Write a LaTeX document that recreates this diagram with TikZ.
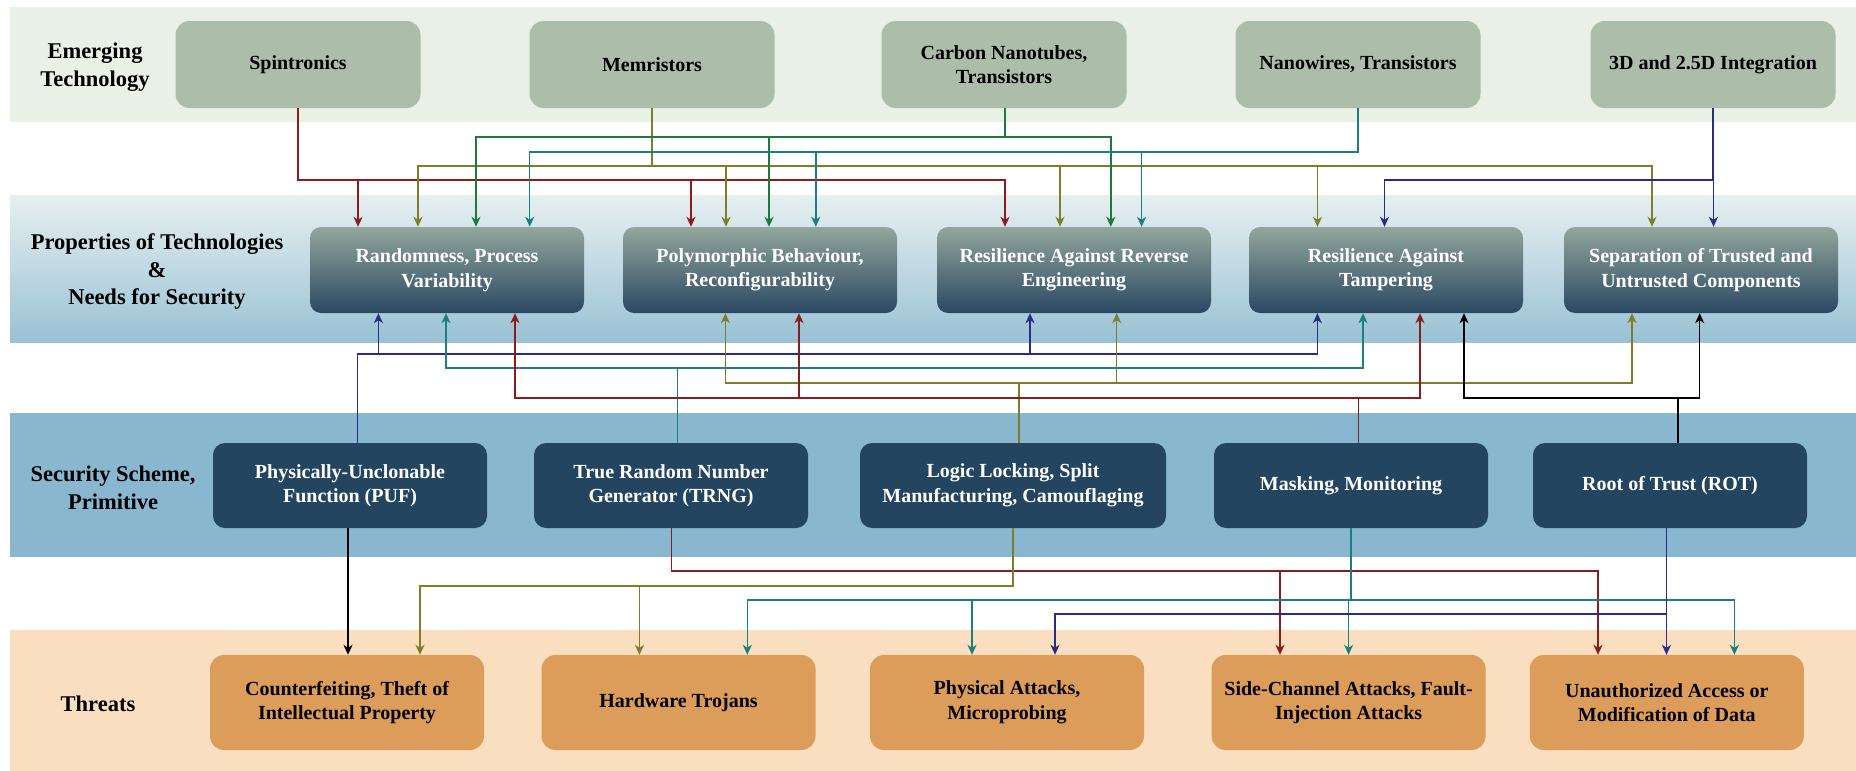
\documentclass[tikz,border=0pt]{standalone}
\usepackage{fontspec}
\setmainfont{Liberation Serif}
\usetikzlibrary{arrows.meta}

% band and box colours
\definecolor{bandTech}{HTML}{E9F0E6}
\definecolor{bandPropTop}{HTML}{E6EFF0}
\definecolor{bandPropBot}{HTML}{99C2D4}
\definecolor{bandScheme}{HTML}{89B7CF}
\definecolor{bandThreat}{HTML}{F9DFBF}
\definecolor{cTech}{HTML}{ACBDAA}
\definecolor{cPropTop}{HTML}{93A69C}
\definecolor{cPropBot}{HTML}{2A4862}
\definecolor{cScheme}{HTML}{234560}
\definecolor{cThreat}{HTML}{DC9C5A}
% wire colours
\definecolor{wRed}{HTML}{8B1C1C}
\definecolor{wOlive}{HTML}{7D7D2C}
\definecolor{wGreen}{HTML}{1E7A3C}
\definecolor{wTeal}{HTML}{1B7F7F}
\definecolor{wNavy}{HTML}{2B2B85}

\newcommand{\bxfont}{\fontsize{20}{24.5}\selectfont\bfseries}
\newcommand{\lblfont}{\fontsize{22.5}{27.5}\selectfont\bfseries}

% one routed connector: colour, source anchor, source shift, bus level, target anchor, target shift
\newcommand{\wire}[6]{%
  \coordinate (ws) at ([xshift=#3]#2);
  \coordinate (wt) at ([xshift=#6]#5);
  \draw[arr,#1] (ws) |- (wt |- #4) -- (wt);}

\begin{document}
\begin{tikzpicture}[x=1pt,y=-1pt,
  basebox/.style={rectangle, inner sep=0pt, align=center, font=\bxfont, minimum width=274pt},
  techbox/.style={basebox, rounded corners=14pt, fill=cTech, text=black, minimum width=245pt, minimum height=87pt},
  propbox/.style={basebox, rounded corners=11pt, top color=cPropTop, bottom color=cPropBot, text=white, minimum height=86pt},
  schemebox/.style={basebox, rounded corners=12pt, fill=cScheme, text=white, minimum height=85pt},
  threatbox/.style={basebox, rounded corners=14pt, fill=cThreat, text=black, minimum height=95pt},
  rowlabel/.style={align=center, font=\lblfont, text=black},
  arr/.style={line width=1.5pt, -{Stealth[length=10pt,width=9pt,inset=3pt]}}]

\useasboundingbox (0,0) rectangle (1856,771);
\fill[white] (0,0) rectangle (1856,771);

% horizontal bands
\fill[bandTech] (10,7) rectangle (1856,122);
\shade[top color=bandPropTop, bottom color=bandPropBot] (10,195) rectangle (1856,342);
\fill[bandScheme] (10,413) rectangle (1856,557);
\fill[bandThreat] (10,630) rectangle (1856,771);

% row labels
\node[rowlabel] (lTech) at (95,67) {Emerging\\Technology};
\node[rowlabel] (lProp) at (157,272) {Properties of Technologies\\\&\\Needs for Security};
\node[rowlabel] (lScheme) at (113,488) {Security Scheme,\\Primitive};
\node[rowlabel] (lThreat) at (98,704) {Threats};

% emerging technologies
\node[techbox] (spin) at (298,64.5) {Spintronics};
\node[techbox] (mem)  at (652,64.5) {Memristors};
\node[techbox] (cnt)  at (1004,64.5) {Carbon Nanotubes,\\Transistors};
\node[techbox] (nw)   at (1358,64.5) {Nanowires, Transistors};
\node[techbox] (int)  at (1713,64.5) {3D and 2.5D Integration};

% properties and security needs
\node[propbox] (rand) at (447,270) {Randomness, Process\\Variability};
\node[propbox] (poly) at (760,270) {Polymorphic Behaviour,\\Reconfigurability};
\node[propbox] (rre)  at (1074,270) {Resilience Against Reverse\\Engineering};
\node[propbox] (tamp) at (1386,270) {Resilience Against\\Tampering};
\node[propbox] (sep)  at (1701,270) {Separation of Trusted and\\Untrusted Components};

% security schemes and primitives
\node[schemebox] (puf)   at (350,485.5) {Physically-Unclonable\\Function (PUF)};
\node[schemebox] (trng)  at (671,485.5) {True Random Number\\Generator (TRNG)};
\node[schemebox, minimum width=306pt] (logic) at (1013,485.5) {Logic Locking, Split\\Manufacturing, Camouflaging};
\node[schemebox] (mask)  at (1351,485.5) {Masking, Monitoring};
\node[schemebox] (rot)   at (1670,485.5) {Root of Trust (ROT)};

% threats
\node[threatbox] (cfeit) at (347,702.5) {Counterfeiting, Theft of\\Intellectual Property};
\node[threatbox] (troj)  at (678.5,702.5) {Hardware Trojans};
\node[threatbox] (phys)  at (1007,702.5) {Physical Attacks,\\Microprobing};
\node[threatbox] (side)  at (1348.6,702.5) {Side-Channel Attacks, Fault-\\Injection Attacks};
\node[threatbox] (unauth) at (1666.8,702.5) {Unauthorized Access or\\Modification of Data};

% bus levels
\coordinate (yT1) at (0,137);
\coordinate (yT2) at (0,152);
\coordinate (yT3) at (0,166);
\coordinate (yT4) at (0,180);
\coordinate (yM1) at (0,354);
\coordinate (yM2) at (0,368);
\coordinate (yM3) at (0,383);
\coordinate (yM4) at (0,398);
\coordinate (yB1) at (0,571);
\coordinate (yB2) at (0,586);
\coordinate (yB3) at (0,600);
\coordinate (yB4) at (0,614);

% technologies -> properties
\wire{wRed}{spin.south}{0pt}{yT4}{rand.north}{-89pt}
\wire{wRed}{spin.south}{0pt}{yT4}{poly.north}{-69pt}
\wire{wRed}{spin.south}{0pt}{yT4}{rre.north}{-69pt}

\wire{wOlive}{mem.south}{0pt}{yT3}{rand.north}{-29pt}
\wire{wOlive}{mem.south}{0pt}{yT3}{poly.north}{-34pt}
\wire{wOlive}{mem.south}{0pt}{yT3}{rre.north}{-14pt}
\wire{wOlive}{mem.south}{0pt}{yT3}{tamp.north}{-68.5pt}
\wire{wOlive}{mem.south}{0pt}{yT3}{sep.north}{-49pt}

\wire{wGreen}{cnt.south}{1pt}{yT1}{rand.north}{29pt}
\wire{wGreen}{cnt.south}{1pt}{yT1}{poly.north}{9pt}
\wire{wGreen}{cnt.south}{1pt}{yT1}{rre.north}{36.8pt}

\wire{wTeal}{nw.south}{0pt}{yT2}{rand.north}{82.7pt}
\wire{wTeal}{nw.south}{0pt}{yT2}{poly.north}{55.8pt}
\wire{wTeal}{nw.south}{0pt}{yT2}{rre.north}{67.6pt}

\wire{wNavy}{int.south}{0pt}{yT4}{tamp.north}{-1.5pt}
\wire{wNavy}{int.south}{0pt}{yT4}{sep.north}{12.5pt}

% schemes -> properties
\wire{wNavy}{puf.north}{7.6pt}{yM1}{rand.south}{-68.6pt}
\wire{wNavy}{puf.north}{7.6pt}{yM1}{rre.south}{-44pt}
\wire{wNavy}{puf.north}{7.6pt}{yM1}{tamp.south}{-68.6pt}

\wire{wTeal}{trng.north}{6.6pt}{yM2}{rand.south}{-1pt}
\wire{wTeal}{trng.north}{6.6pt}{yM2}{tamp.south}{-23pt}

\wire{wOlive}{logic.north}{6pt}{yM3}{poly.south}{-34.6pt}
\wire{wOlive}{logic.north}{6pt}{yM3}{rre.south}{42.7pt}
\wire{wOlive}{logic.north}{6pt}{yM3}{sep.south}{-69pt}

\wire{wRed}{mask.north}{7.7pt}{yM4}{rand.south}{68pt}
\wire{wRed}{mask.north}{7.7pt}{yM4}{poly.south}{39pt}
\wire{wRed}{mask.north}{7.7pt}{yM4}{tamp.south}{34pt}

\wire{black}{rot.north}{7.8pt}{yM4}{tamp.south}{78pt}
\wire{black}{rot.north}{7.8pt}{yM4}{sep.south}{-1.3pt}

% schemes -> threats
\wire{black}{puf.south}{-2pt}{yB1}{cfeit.north}{1pt}

\wire{wRed}{trng.south}{0.6pt}{yB1}{side.north}{-68.6pt}
\wire{wRed}{trng.south}{0.6pt}{yB1}{unauth.north}{-68.8pt}

\wire{wOlive}{logic.south}{0pt}{yB2}{cfeit.north}{73pt}
\wire{wOlive}{logic.south}{0pt}{yB2}{troj.north}{-39pt}

\wire{wTeal}{mask.south}{0pt}{yB3}{troj.north}{68.8pt}
\wire{wTeal}{mask.south}{0pt}{yB3}{phys.north}{-35pt}
\wire{wTeal}{mask.south}{0pt}{yB3}{side.north}{0pt}
\wire{wTeal}{mask.south}{0pt}{yB3}{unauth.north}{67.6pt}

\wire{wNavy}{rot.south}{-3.5pt}{yB4}{phys.north}{48pt}
\wire{wNavy}{rot.south}{-3.5pt}{yB4}{unauth.north}{-0.3pt}

\end{tikzpicture}
\end{document}
